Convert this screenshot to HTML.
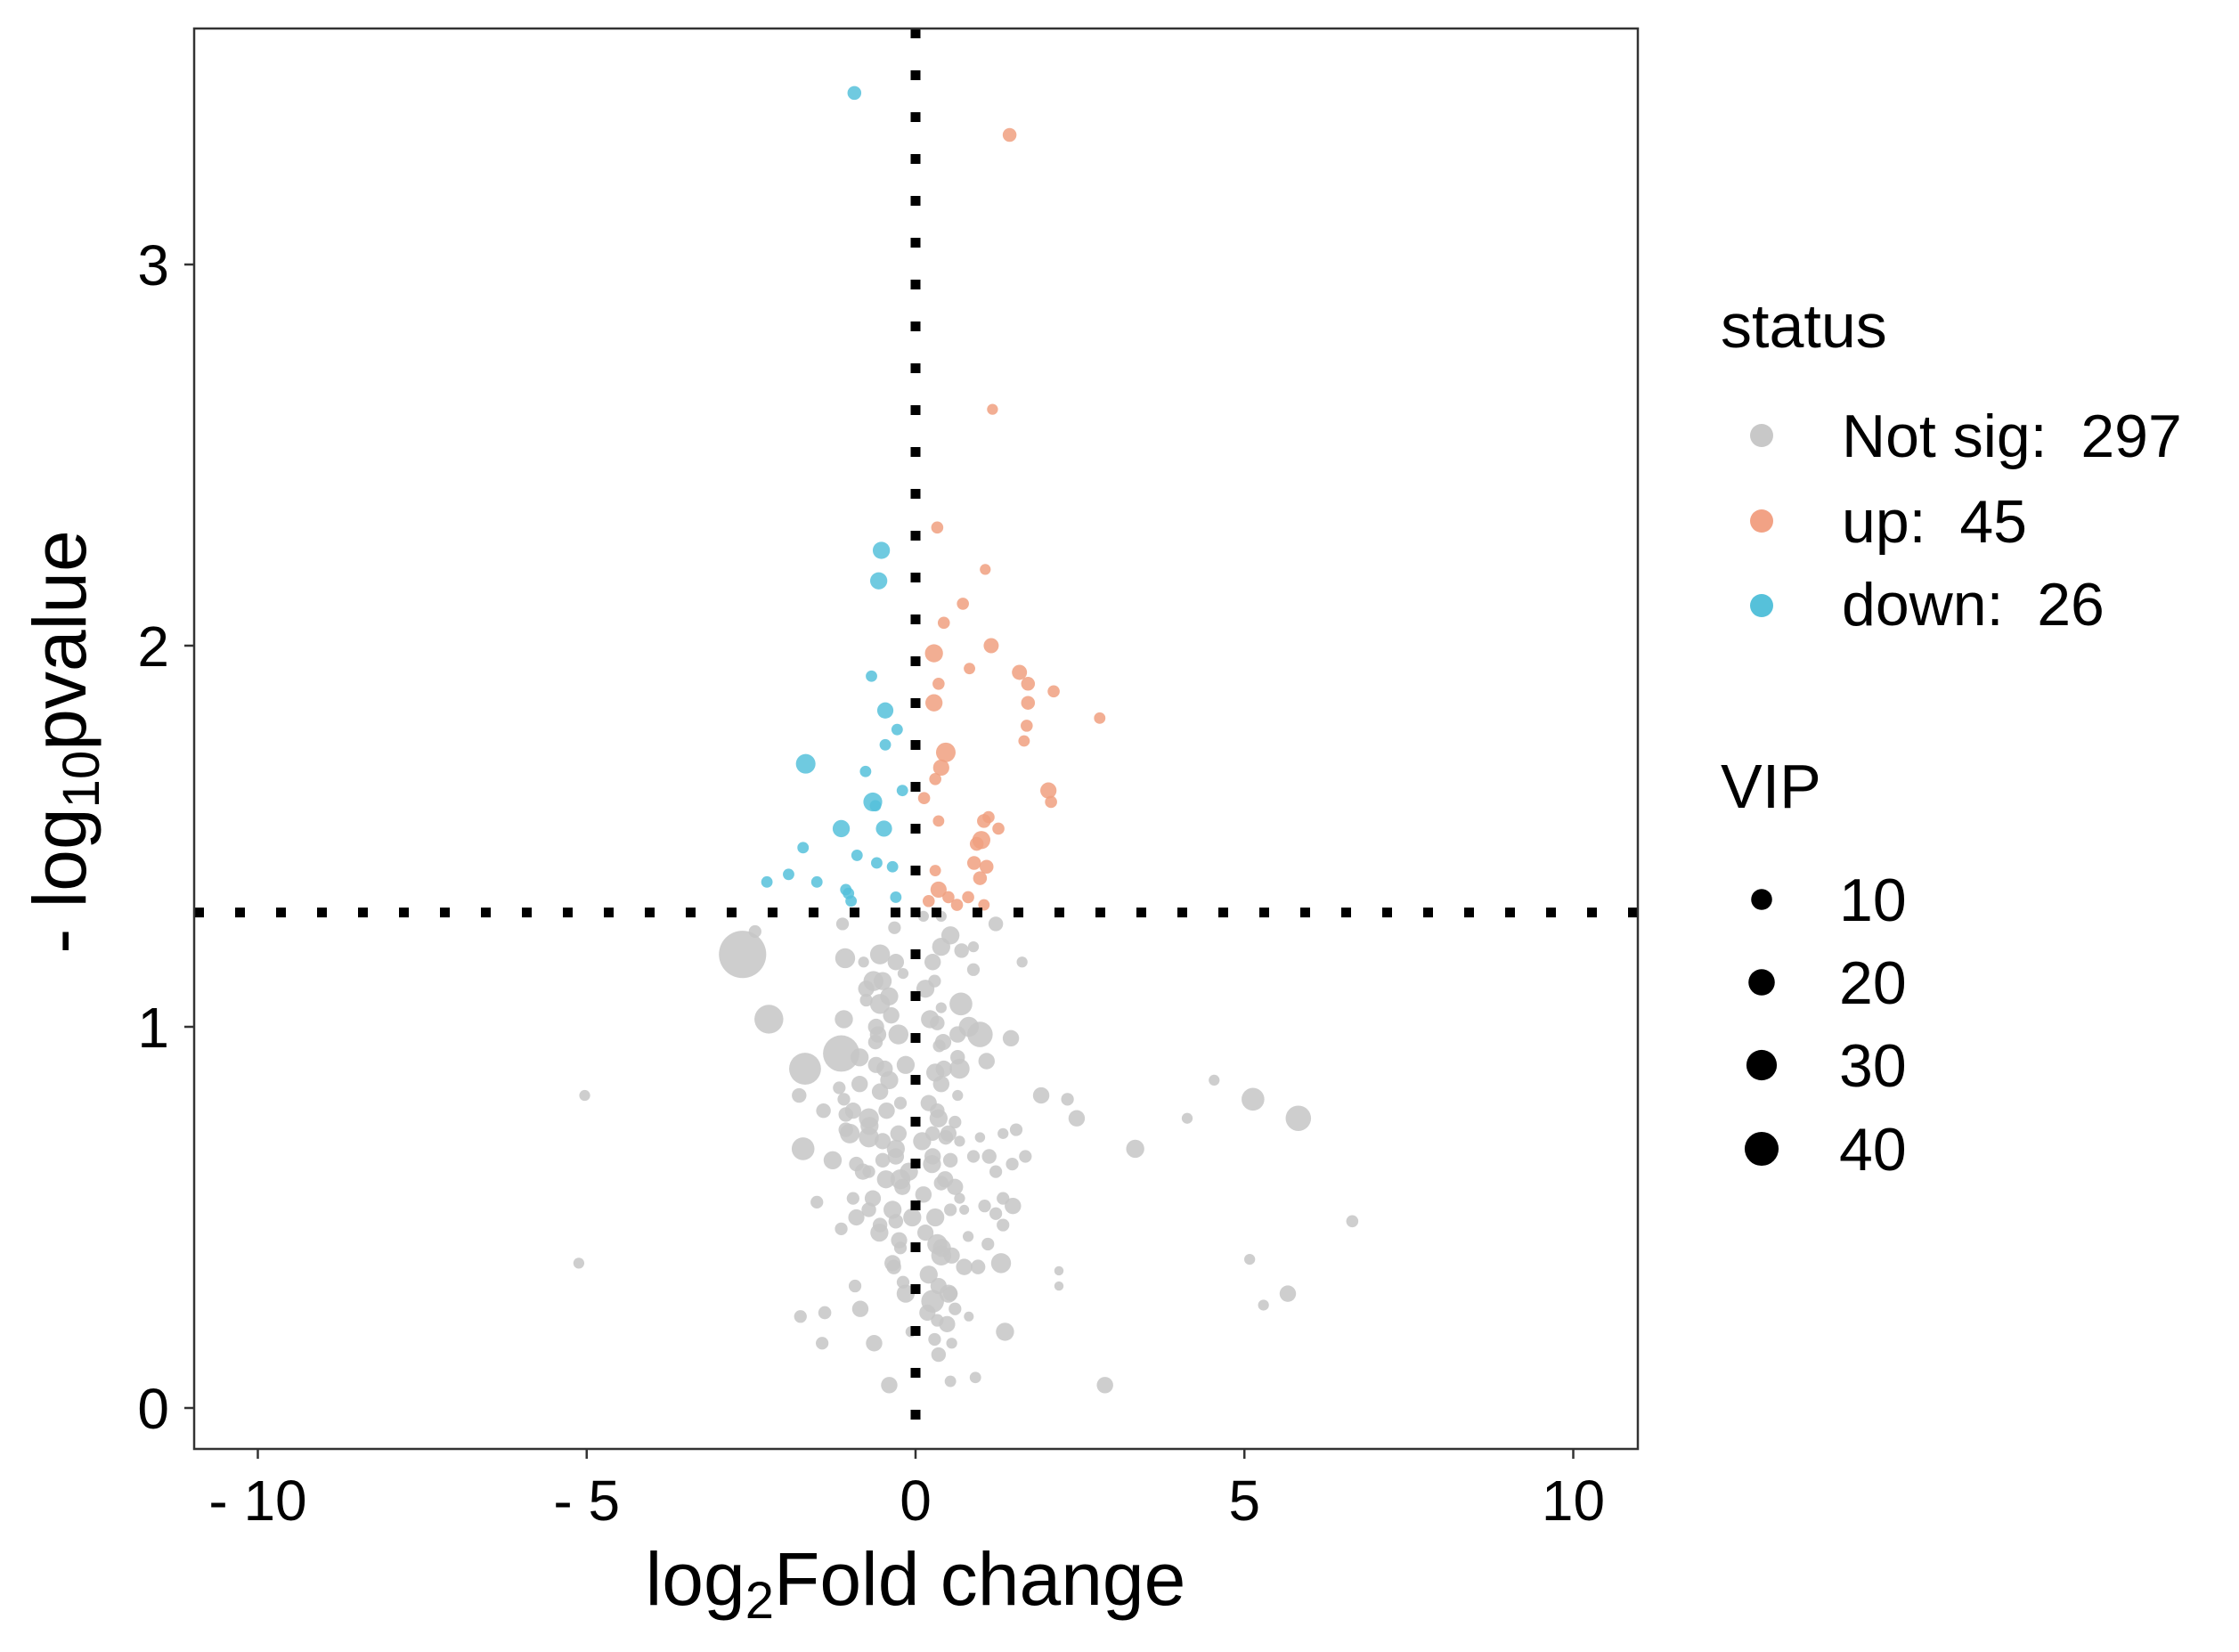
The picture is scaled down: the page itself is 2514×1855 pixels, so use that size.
<!DOCTYPE html>
<html><head><meta charset="utf-8"><style>
html,body{margin:0;padding:0;background:#fff;}
svg{display:block;font-family:"Liberation Sans",Arial,sans-serif;}
</style></head><body>
<svg id="chart" width="2514" height="1855" viewBox="0 0 2514 1855" xmlns="http://www.w3.org/2000/svg">
<rect x="0" y="0" width="2514" height="1855" fill="#fff"/>
<g id="marks"></g>
<g id="refs"></g>
<rect x="218" y="32" width="1621" height="1595" fill="none" stroke="#333" stroke-width="2.5"/>
<g id="axes"></g>
<text x="1028" y="1802" font-size="84" text-anchor="middle">log<tspan font-size="58" dy="15">2</tspan><tspan dy="-15">Fold change</tspan></text>
<text transform="translate(96,833) rotate(-90)" font-size="84" text-anchor="middle">- log<tspan font-size="58" dy="15">10</tspan><tspan dy="-15">pvalue</tspan></text>
<g>
<text x="1932" y="390" font-size="70">status</text>
<circle cx="1978" cy="489" r="13" fill="#c8c8c8"/>
<text x="2068" y="513" font-size="68">Not sig:&#160; 297</text>
<circle cx="1978" cy="585" r="13" fill="#f2a285"/>
<text x="2068" y="609" font-size="68">up:&#160; 45</text>
<circle cx="1978" cy="680" r="13" fill="#56c1da"/>
<text x="2068" y="702" font-size="68">down:&#160; 26</text>
<text x="1932" y="907" font-size="70">VIP</text>
<g id="viplegend"></g>
</g>
</svg>
<script>
const xTicks=[-10,-5,0,5,10];
const xTickLabels=["- 10","- 5","0","5","10"];
const yTicks=[0,1,2,3];
const yTickLabels=["0","1","2","3"];
const vipLegend=[10,20,30,40];
const pThreshold=1.3;
const fcThreshold=0;

const downX=[-0.93,-0.52,-0.56,-0.67,-0.46,-0.28,-0.46,-1.67,-0.76,-0.20,-0.65,-0.61,-1.13,-0.48,-1.71,-0.89,-0.59,-0.35,-2.26,-1.93,-1.50,-1.06,-0.98,-0.30,-1.02];
const downY=[3.45,2.25,2.17,1.92,1.83,1.78,1.74,1.69,1.67,1.62,1.59,1.58,1.52,1.52,1.47,1.45,1.43,1.42,1.38,1.40,1.38,1.36,1.33,1.34,1.35];
const downV=[2,5,5,0.7,4,0.7,0.7,8,0.7,0.7,7,0.7,5,4,0.7,0.7,0.7,0.7,0.7,0.7,0.7,0.7,0.7,0.7,0.7];

const upX=[1.43,1.17,0.33,1.06,0.72,0.43,1.15,0.28,0.82,1.58,1.71,2.10,0.28,0.35,1.71,1.69,2.80,1.65,0.46,0.39,0.30,2.02,2.06,0.13,1.11,1.04,0.35,1.26,1.00,0.89,0.93,1.08,0.30,0.98,0.35,0.50,0.80,1.04,0.63,0.20];
const upY=[3.34,2.62,2.31,2.20,2.11,2.06,2.00,1.98,1.94,1.93,1.90,1.88,1.85,1.90,1.85,1.79,1.81,1.75,1.72,1.68,1.65,1.62,1.59,1.60,1.55,1.54,1.54,1.52,1.49,1.43,1.48,1.42,1.41,1.39,1.36,1.34,1.34,1.32,1.32,1.33];
const upV=[2,0.5,1,0.5,1,1,3,6,0.7,3,2,1,5,1,2,1,0.7,0.7,8,4,1,4,1,1,1,2,0.7,1,6,2,2,2,0.7,2,4,1,1,0.7,1,1];

const grayX=[-2.63,-2.44,-2.23,-1.11,-0.32,0.12,0.39,1.22,-1.07,-0.79,-0.54,-0.30,-0.19,0.39,0.53,0.70,0.88,0.26,0.88,1.62,-0.64,0.29,-0.75,-0.54,0.69,-1.09,-0.37,0.39,0.33,-0.57,-0.26,0.81,0.98,0.64,1.45,-1.13,-1.68,-0.61,-0.47,0.36,0.64,0.67,0.43,1.08,-0.85,-1.16,-0.54,-1.77,-1.09,0.39,0.64,-1.40,-1.06,-0.71,-0.44,-0.23,0.33,0.60,1.91,2.31,2.45,4.54,5.13,5.82,4.13,-1.06,-0.71,-0.26,0.26,0.46,-1.71,0.67,0.98,1.33,1.53,3.34,-1.26,-0.90,-0.50,-0.30,0.26,0.53,0.88,1.12,1.47,1.67,1.22,-0.71,-0.23,0.12,0.39,0.67,1.05,1.33,1.48,-0.95,-0.71,-1.50,0.53,0.74,1.22,1.33,-1.13,-0.54,-0.30,-0.23,-0.33,0.33,0.39,0.74,0.95,1.30,0.80,1.10,2.18,2.18,5.08,5.66,5.29,-0.92,-0.19,0.26,0.53,0.60,0.33,0.81,-0.84,-1.38,-1.75,1.36,-0.07,0.29,0.55,-1.42,-0.63,0.35,-0.40,0.53,0.91,2.88,-5.03,-5.12,6.64,-0.10,0.10,-0.15,0.15,-0.05,
 -0.85,-0.60,-0.40,-0.95,-0.70,-0.50,-0.30,-0.80,-0.45,-0.20,-0.65,-0.35,-0.90,-0.55,-0.25,0.20,0.35,0.50,0.25,0.45,0.60,0.30,0.15,0.40,0.55,0.20,0.35,0.50,-0.75,-0.40,-0.60,0.22,0.42,0.30,-0.35,-0.15,0.18,0.48,-1.00,-0.50];
const grayY=[1.19,1.25,1.02,1.27,1.26,1.29,1.29,1.27,1.18,1.17,1.19,1.17,1.14,1.21,1.24,1.20,1.21,1.17,1.15,1.17,1.12,1.12,1.07,1.06,1.06,1.02,1.03,1.05,1.01,0.98,0.98,1.00,0.98,0.98,0.97,0.93,0.89,0.96,0.89,0.95,0.92,0.89,0.89,0.91,0.85,0.84,0.83,0.82,0.81,0.85,0.82,0.78,0.77,0.76,0.78,0.80,0.78,0.75,0.82,0.81,0.76,0.86,0.81,0.76,0.76,0.73,0.71,0.72,0.72,0.71,0.68,0.70,0.71,0.72,0.73,0.68,0.65,0.64,0.65,0.66,0.66,0.65,0.66,0.66,0.64,0.66,0.62,0.62,0.60,0.56,0.59,0.55,0.53,0.55,0.53,0.55,0.52,0.54,0.52,0.52,0.51,0.48,0.47,0.48,0.49,0.42,0.37,0.43,0.40,0.37,0.37,0.38,0.45,0.43,0.36,0.32,0.39,0.30,0.27,0.32,0.33,0.28,0.30,0.26,0.23,0.24,0.26,0.25,0.24,0.20,0.20,0.18,0.17,0.17,0.17,0.14,0.06,0.07,0.08,0.06,0.82,0.38,0.49,0.62,0.70,0.90,1.10,0.50,
 0.92,0.90,0.86,0.78,0.74,0.70,0.68,0.62,0.60,0.58,0.55,0.52,0.50,0.46,0.44,0.80,0.76,0.72,0.64,0.60,0.58,0.50,0.46,0.42,0.40,0.35,0.32,0.30,1.10,1.08,1.00,1.02,0.96,0.88,0.38,0.30,0.25,0.22,0.72,1.12];
const grayV=[92,1.3,26,1.3,1.3,0.5,0.5,2.6,8.5,0.5,8.5,4.2,0.5,6.1,6.1,2.6,0.5,4.2,1.3,0.5,8.5,1.3,1.3,8.5,13,6.1,4.2,0.5,2.6,4.2,8.5,8.5,18,4.2,4.2,48,34,2.6,4.2,1.3,2.6,8.5,4.2,4.2,4.2,1.3,4.2,2.6,1.3,4.2,0.5,2.6,2.6,8.5,4.2,1.3,2.6,1.3,4.2,1.3,4.2,0.5,13,18,0.5,2.6,8.5,4.2,2.6,2.6,13,0.5,0.3,0.5,1.3,6.1,6.1,2.6,2.6,4.2,4.2,2.6,1.3,2.6,1.3,1.3,1.3,1.3,8.5,4.2,2.6,0.5,1.3,1.3,4.2,1.3,2.6,1.3,1.3,0.2,1.3,1.3,1.3,2.6,2.6,1.3,2.6,8.5,8.5,4.2,2.6,8.5,0.5,1.3,0.1,0.1,0.5,4.2,0.5,1.3,1.3,13,2.6,1.3,1.3,0.2,4.2,1.5,1.3,6.1,0.5,1.3,0.5,1.3,4.2,2.6,4.2,0.7,0.7,4.2,0.5,0.5,1,6,6,6,6,6,
 6,4,6,4,6,4,6,4,6,4,4,6,4,6,4,4,6,4,6,4,4,6,4,6,4,6,4,6,4,6,4,6,4,6,4,6,4,4,8,6];

const X0=1028, XS=73.85, Y0=1581, YS=428;
function sx(v){return X0+v*XS;}
function sy(v){return Y0-v*YS;}
function sr(v){return 4.5+2.3*Math.sqrt(v);}
const NS="http://www.w3.org/2000/svg";
const marks=document.getElementById('marks');
function drawSeries(xs,ys,vs,color,name){
  const g=document.createElementNS(NS,'g');
  
  
  for(let i=0;i<xs.length;i++){
    const c=document.createElementNS(NS,'circle');
    c.setAttribute('cx',sx(xs[i]));c.setAttribute('cy',sy(ys[i]));c.setAttribute('r',sr(vs[i]));
    c.setAttribute('fill',color);c.setAttribute('fill-opacity','0.85');
    
    
    g.appendChild(c);
  }
  marks.appendChild(g);
}
drawSeries(grayX,grayY,grayV,'#c6c6c6','notsig');
drawSeries(upX,upY,upV,'#f0a080','up');
drawSeries(downX,downY,downV,'#56c1da','down');

const refs=document.getElementById('refs');
const hl=document.createElementNS(NS,'line');
hl.setAttribute('x1',218);hl.setAttribute('x2',1839);hl.setAttribute('y1',sy(pThreshold));hl.setAttribute('y2',sy(pThreshold));
hl.setAttribute('stroke','#000');hl.setAttribute('stroke-width','11');hl.setAttribute('stroke-dasharray','11 35');


refs.appendChild(hl);
const vl=document.createElementNS(NS,'line');
vl.setAttribute('x1',sx(fcThreshold));vl.setAttribute('x2',sx(fcThreshold));vl.setAttribute('y1',32);vl.setAttribute('y2',1627);
vl.setAttribute('stroke','#000');vl.setAttribute('stroke-width','11');vl.setAttribute('stroke-dasharray','11 36');


refs.appendChild(vl);

const axes=document.getElementById('axes');
xTicks.forEach((t,i)=>{
  const l=document.createElementNS(NS,'line');
  l.setAttribute('x1',sx(t));l.setAttribute('x2',sx(t));l.setAttribute('y1',1627);l.setAttribute('y2',1638);
  l.setAttribute('stroke','#333');l.setAttribute('stroke-width','2.5');
  
  
  axes.appendChild(l);
  const tx=document.createElementNS(NS,'text');
  tx.setAttribute('x',sx(t));tx.setAttribute('y',1707);tx.setAttribute('font-size','64');tx.setAttribute('text-anchor','middle');
  tx.textContent=xTickLabels[i];
  
  
  axes.appendChild(tx);
});
yTicks.forEach((t,i)=>{
  const l=document.createElementNS(NS,'line');
  l.setAttribute('x1',207);l.setAttribute('x2',218);l.setAttribute('y1',sy(t));l.setAttribute('y2',sy(t));
  l.setAttribute('stroke','#333');l.setAttribute('stroke-width','2.5');
  
  
  axes.appendChild(l);
  const tx=document.createElementNS(NS,'text');
  tx.setAttribute('x',190);tx.setAttribute('y',sy(t)+23);tx.setAttribute('font-size','64');tx.setAttribute('text-anchor','end');
  tx.textContent=yTickLabels[i];
  
  
  axes.appendChild(tx);
});
const vlg=document.getElementById('viplegend');
const vipY=[1010,1103,1196,1290];
vipLegend.forEach((v,i)=>{
  const c=document.createElementNS(NS,'circle');
  c.setAttribute('cx',1978);c.setAttribute('cy',vipY[i]);c.setAttribute('r',sr(v));c.setAttribute('fill','#000');
  
  
  vlg.appendChild(c);
  const tx=document.createElementNS(NS,'text');
  tx.setAttribute('x',2065);tx.setAttribute('y',vipY[i]+24);tx.setAttribute('font-size','68');
  tx.textContent=String(v);
  
  
  vlg.appendChild(tx);
});
</script>
</body></html>
